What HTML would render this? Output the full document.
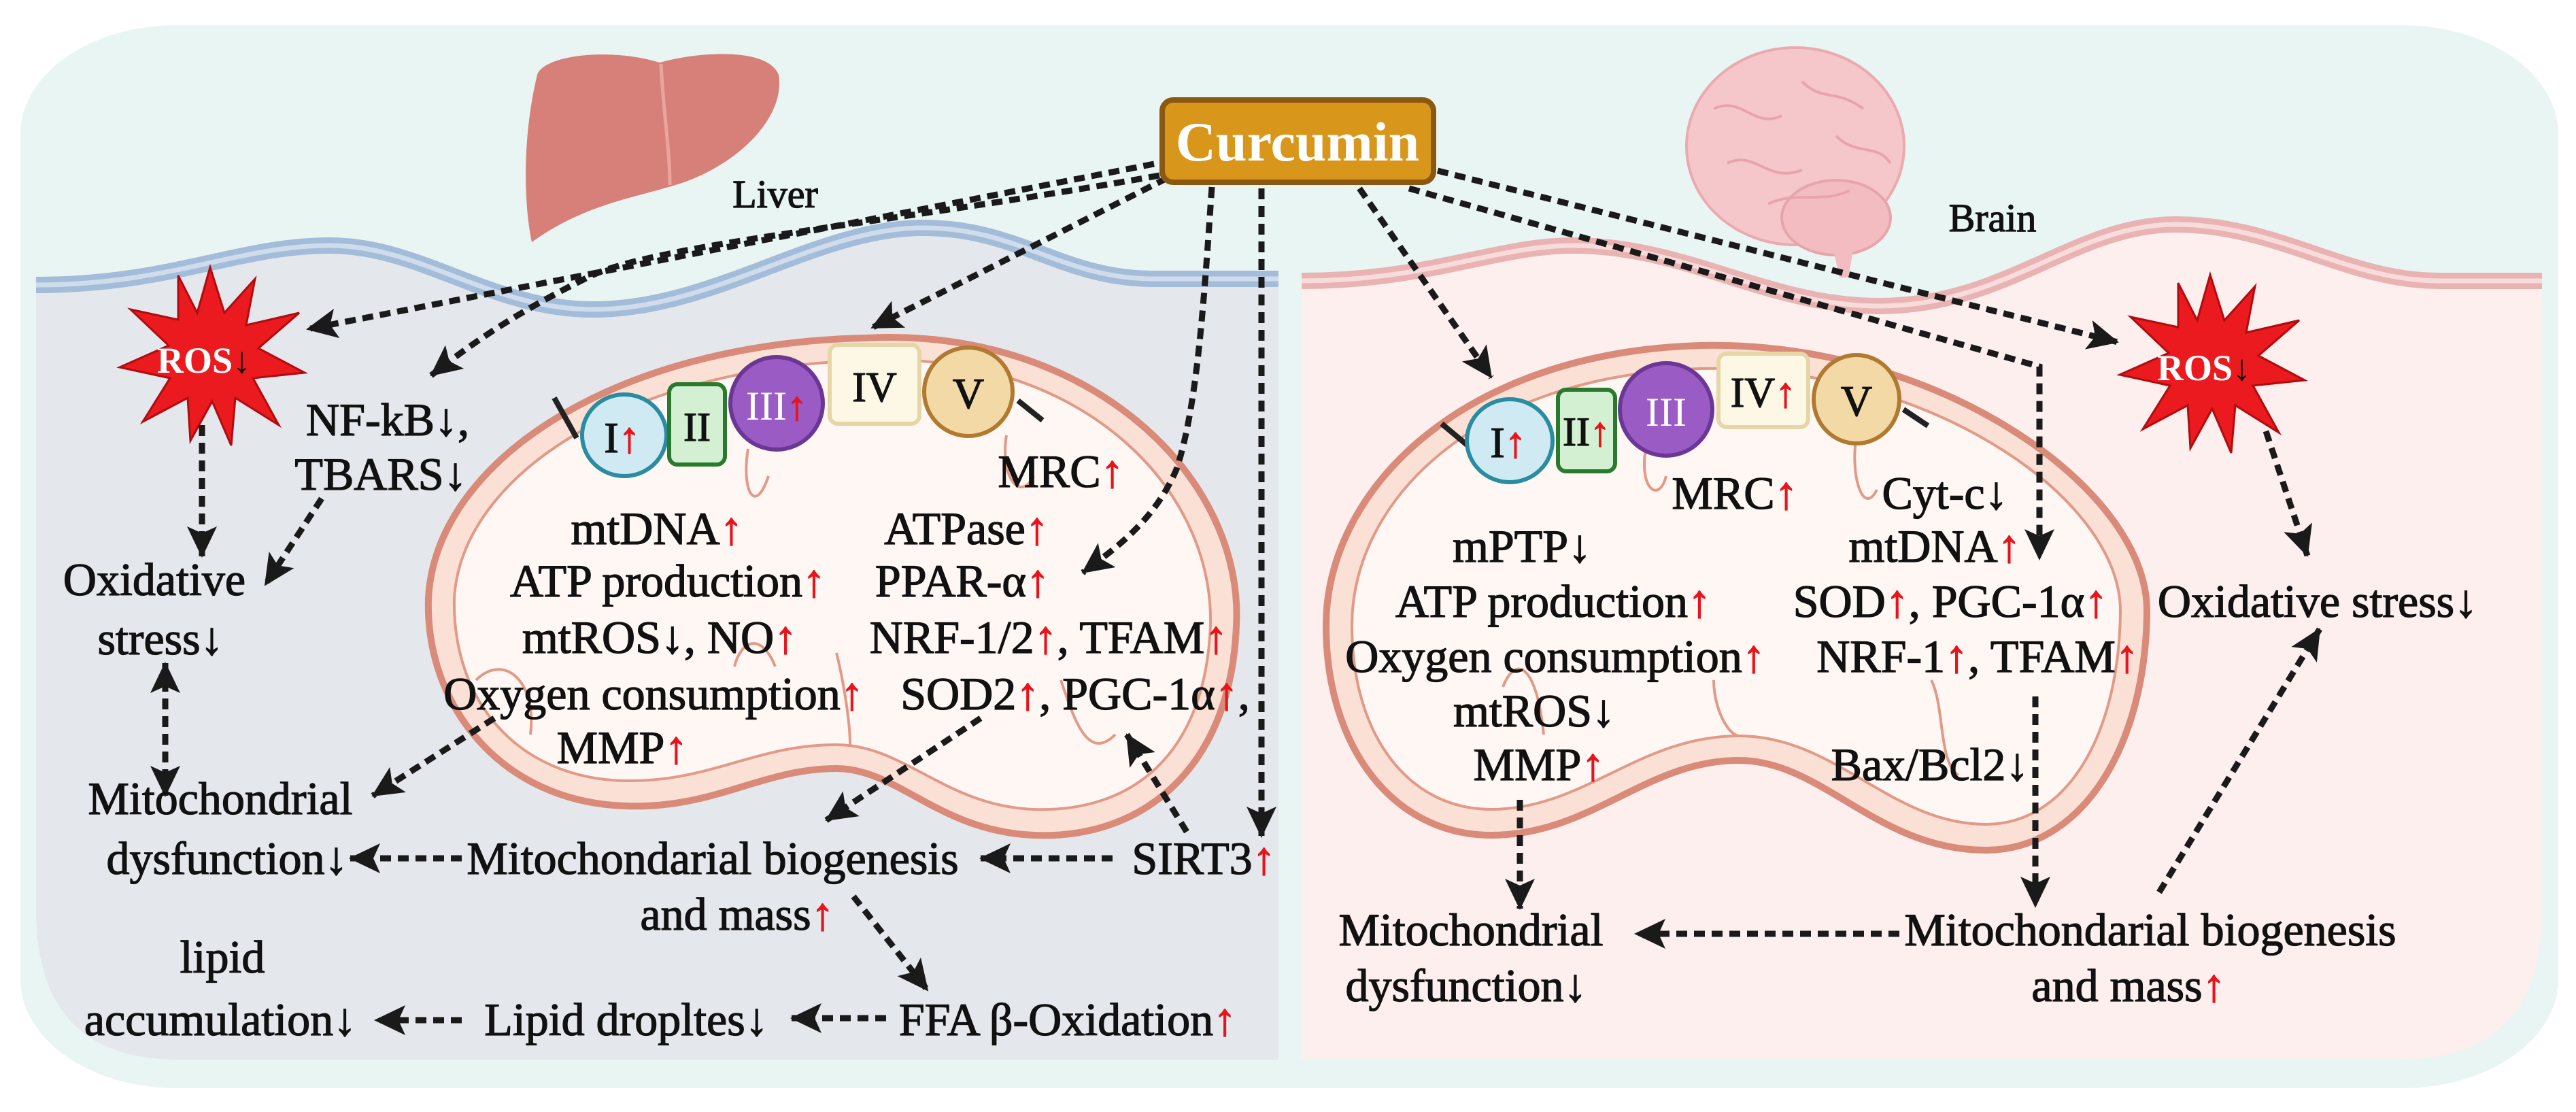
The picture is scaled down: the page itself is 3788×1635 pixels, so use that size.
<!DOCTYPE html>
<html><head><meta charset="utf-8"><style>
html,body{margin:0;padding:0;background:#fff;}
svg{display:block}
text{font-family:"Liberation Serif","DejaVu Serif",serif;font-size:68px;fill:#111;text-anchor:middle;stroke:#111;stroke-width:1.3px;paint-order:stroke}
.r{fill:#e8141c;stroke:#e8141c}
.w{fill:#fff;stroke:none}
</style></head><body>
<svg width="3788" height="1635" viewBox="0 0 3788 1635" xmlns="http://www.w3.org/2000/svg">
<defs>
<marker id="ah" markerUnits="userSpaceOnUse" markerWidth="50" markerHeight="44" refX="44" refY="22" orient="auto">
<path d="M0,0 L46,22 L0,44 L10,22 Z" fill="#1a1a1a"/>
</marker>
<marker id="as" markerUnits="userSpaceOnUse" markerWidth="50" markerHeight="44" refX="2" refY="22" orient="auto">
<path d="M46,0 L0,22 L46,44 L36,22 Z" fill="#1a1a1a"/>
</marker>
</defs>
<rect x="30" y="37" width="3732" height="1563" rx="230" ry="160" fill="#e9f5f2"/>
<path d="M53,419 C250,419 350,361 485,361 C620,361 720,455 873,455 C1050,455 1200,335 1357,335 C1500,335 1560,410 1697,410 L1880,410 L1880,1558 L263,1558 Q53,1558 53,1338 Z" fill="#e4e7eb"/>
<path d="M53,419 C250,419 350,361 485,361 C620,361 720,455 873,455 C1050,455 1200,335 1357,335 C1500,335 1560,410 1697,410 L1880,410" fill="none" stroke="#a3bcd9" stroke-width="24"/>
<path d="M53,419 C250,419 350,361 485,361 C620,361 720,455 873,455 C1050,455 1200,335 1357,335 C1500,335 1560,410 1697,410 L1880,410" fill="none" stroke="#cfdcec" stroke-width="7"/>
<path d="M1914,413 C2100,413 2200,361 2314,361 C2480,361 2600,450 2763,450 C2950,450 3050,330 3199,330 C3350,330 3450,413 3587,413 L3738,413 L3738,1338 Q3738,1558 3528,1558 L1914,1558 Z" fill="#fcefee"/>
<path d="M1914,413 C2100,413 2200,361 2314,361 C2480,361 2600,450 2763,450 C2950,450 3050,330 3199,330 C3350,330 3450,413 3587,413 L3738,413" fill="none" stroke="#e9b3b3" stroke-width="24"/>
<path d="M1914,413 C2100,413 2200,361 2314,361 C2480,361 2600,450 2763,450 C2950,450 3050,330 3199,330 C3350,330 3450,413 3587,413 L3738,413" fill="none" stroke="#f8dcdc" stroke-width="7"/>
<path d="M790,110 C800,80 900,70 970,92 C1030,75 1130,70 1145,110 C1155,170 1090,240 1000,270 C930,292 860,300 782,356 C770,300 768,200 790,110 Z" fill="#d7807a"/>
<path d="M972,94 C975,160 985,220 985,272" stroke="#e9a59c" stroke-width="5" fill="none"/>
<ellipse cx="2640" cy="215" rx="160" ry="145" fill="#f5c7cb" stroke="#eaaab0" stroke-width="4"/>
<ellipse cx="2700" cy="320" rx="80" ry="55" fill="#f2bcc1" stroke="#e7a5ab" stroke-width="4"/>
<path d="M2690,340 L2730,340 L2718,408 L2705,408 Z" fill="#f2bcc1"/>
<path d="M2520,160 C2560,140 2580,190 2620,170 M2540,240 C2580,220 2600,270 2650,250 M2650,120 C2680,150 2700,130 2740,160 M2600,300 C2640,280 2680,300 2720,280 M2700,200 C2730,230 2760,210 2780,240" stroke="#e7a5ab" stroke-width="4" fill="none"/>
<path d="M1273,497 C1600,480 1830,700 1818,920 C1810,1130 1680,1235 1520,1228 C1380,1222 1320,1130 1230,1130 C1120,1130 1050,1190 920,1185 C740,1180 625,1040 630,880 C640,680 900,505 1273,497 Z" fill="#fbe0d6" stroke="#d98a78" stroke-width="10"/>
<path d="M1273,530 C1580,515 1785,710 1780,920 C1772,1110 1665,1195 1520,1190 C1390,1185 1330,1095 1230,1095 C1110,1095 1045,1150 920,1148 C760,1145 665,1030 668,880 C678,700 920,540 1273,530 Z" fill="#fff7f4" stroke="#e29a88" stroke-width="4"/>
<path d="M700,1000 C740,960 790,1000 780,1080 M1080,980 C1090,940 1120,930 1140,980 M1230,960 C1240,1000 1250,1060 1250,1095 M1560,1000 C1580,1060 1600,1120 1640,1080 M1480,640 C1470,700 1500,740 1520,700 M1100,660 C1090,720 1110,760 1130,700" stroke="#e29a88" stroke-width="4" fill="none"/>
<path d="M2500,508 C2850,500 3160,720 3157,900 C3155,1100 3060,1250 2920,1250 C2760,1250 2680,1118 2557,1118 C2420,1118 2340,1228 2193,1228 C2050,1228 1950,1100 1950,920 C1950,720 2150,518 2500,508 Z" fill="#fbe0d6" stroke="#d98a78" stroke-width="10"/>
<path d="M2500,542 C2830,535 3120,730 3118,900 C3116,1080 3040,1212 2920,1212 C2780,1212 2700,1082 2557,1082 C2410,1082 2330,1190 2193,1190 C2070,1190 1988,1080 1988,920 C1988,735 2170,552 2500,542 Z" fill="#fff7f4" stroke="#e29a88" stroke-width="4"/>
<path d="M2210,1010 C2230,960 2260,980 2270,1080 M2520,1000 C2520,1040 2540,1080 2557,1082 M2840,1000 C2860,1040 2850,1120 2880,1140 M2730,640 C2720,700 2740,760 2760,720 M2420,660 C2410,720 2440,740 2450,700" stroke="#e29a88" stroke-width="4" fill="none"/>
<path d="M815,585 L848,644 M1497,589 L1533,618" stroke="#222" stroke-width="8"/>
<ellipse cx="918" cy="640" rx="62" ry="60" fill="#cfeaf3" stroke="#2a8ca0" stroke-width="6"/>
<rect x="984" y="565" width="82" height="118" rx="12" fill="#d4f0d2" stroke="#2a7a2e" stroke-width="6"/>
<ellipse cx="1142" cy="593" rx="68" ry="68" fill="#9a5cc4" stroke="#6b3795" stroke-width="6"/>
<rect x="1220" y="507" width="132" height="116" rx="12" fill="#fdf8e6" stroke="#e6d6a6" stroke-width="6"/>
<ellipse cx="1424" cy="576" rx="65" ry="65" fill="#f2d9a6" stroke="#b07a30" stroke-width="6"/>
<text x="915" y="665" style="font-size:64px">I<tspan class="r">↑</tspan></text>
<text x="1025" y="648" style="font-size:60px">II</text>
<text x="1142" y="617" style="font-size:60px" class="w">III<tspan class="r">↑</tspan></text>
<text x="1286" y="590" style="font-size:62px">IV</text>
<text x="1424" y="600" style="font-size:64px">V</text>
<path d="M2120,623 L2157,654 M2799,602 L2835,626" stroke="#222" stroke-width="8"/>
<ellipse cx="2220" cy="648" rx="63" ry="61" fill="#cfeaf3" stroke="#2a8ca0" stroke-width="6"/>
<rect x="2291" y="573" width="84" height="120" rx="12" fill="#d4f0d2" stroke="#2a7a2e" stroke-width="6"/>
<ellipse cx="2450" cy="602" rx="68" ry="68" fill="#9a5cc4" stroke="#6b3795" stroke-width="6"/>
<rect x="2527" y="520" width="132" height="108" rx="12" fill="#fdf8e6" stroke="#e6d6a6" stroke-width="6"/>
<ellipse cx="2730" cy="587" rx="63" ry="65" fill="#f2d9a6" stroke="#b07a30" stroke-width="6"/>
<text x="2218" y="672" style="font-size:64px">I<tspan class="r">↑</tspan></text>
<text x="2333" y="655" style="font-size:60px">II<tspan class="r">↑</tspan></text>
<text x="2450" y="626" style="font-size:60px" class="w">III</text>
<text x="2593" y="598" style="font-size:62px">IV<tspan class="r">↑</tspan></text>
<text x="2730" y="611" style="font-size:64px">V</text>
<polygon points="309,393 330,460 375,410 362,478 440,460 380,512 448,548 372,556 410,625 346,585 340,655 312,590 280,648 276,585 210,620 250,556 176,540 248,508 192,455 262,470 262,405 290,460" fill="#ea1a1e" stroke="#b00c10" stroke-width="3"/>
<text x="300" y="548" style="font-size:54px;font-weight:bold" class="w">ROS<tspan style="fill:#111;font-weight:normal">↓</tspan></text>
<polygon points="3250,404 3271,471 3316,421 3303,489 3381,471 3321,523 3389,559 3313,567 3351,636 3287,596 3281,666 3253,601 3221,659 3217,596 3151,631 3191,567 3117,551 3189,519 3133,466 3203,481 3203,416 3231,471" fill="#ea1a1e" stroke="#b00c10" stroke-width="3"/>
<text x="3241" y="559" style="font-size:54px;font-weight:bold" class="w">ROS<tspan style="fill:#111;font-weight:normal">↓</tspan></text>
<g fill="none" stroke="#1a1a1a" stroke-width="9" stroke-dasharray="16 10">
<path d="M1697,241 L452,484" marker-end="url(#ah)"/>
<path d="M1705,258 C1300,330 950,360 860,410 C760,460 700,500 634,552" marker-end="url(#ah)"/>
<path d="M1716,262 L1282,482" marker-end="url(#ah)"/>
<path d="M1782,275 C1770,450 1760,600 1730,690 C1700,760 1650,800 1592,842" marker-end="url(#ah)"/>
<path d="M1855,277 L1855,1230" marker-end="url(#ah)"/>
<path d="M297,625 L297,818" marker-end="url(#ah)"/>
<path d="M473,733 L390,860" marker-end="url(#ah)"/>
<path d="M243,975 L243,1170" marker-start="url(#as)" marker-end="url(#ah)"/>
<path d="M727,1056 L548,1170" marker-end="url(#ah)"/>
<path d="M1442,1056 L1215,1206" marker-end="url(#ah)"/>
<path d="M1745,1223 L1657,1080" marker-end="url(#ah)"/>
<path d="M1636,1262 L1442,1262" marker-end="url(#ah)"/>
<path d="M679,1262 L515,1262" marker-end="url(#ah)"/>
<path d="M1255,1318 L1364,1456" marker-end="url(#ah)"/>
<path d="M1303,1497 L1164,1497" marker-end="url(#ah)"/>
<path d="M679,1500 L552,1500" marker-end="url(#ah)"/>
<path d="M1999,277 L2193,555" marker-end="url(#ah)"/>
<path d="M2114,251 L3114,503" marker-end="url(#ah)"/>
<path d="M2072,277 L2999,539 L2999,822" marker-end="url(#ah)"/>
<path d="M3332,634 L3393,817" marker-end="url(#ah)"/>
<path d="M3175,1312 L3411,925" marker-end="url(#ah)"/>
<path d="M2993,1024 L2993,1333" marker-end="url(#ah)"/>
<path d="M2235,1176 L2235,1336" marker-end="url(#ah)"/>
<path d="M2793,1373 L2405,1373" marker-end="url(#ah)"/>
</g>
<rect x="1709" y="147" width="399" height="121" rx="16" fill="#d8961a" stroke="#8b5812" stroke-width="8"/>
<text x="1908" y="236" style="font-size:82px;font-weight:bold" class="w">Curcumin</text>
<text x="1140" y="305" style="font-size:58px">Liver</text>
<text x="2930" y="340" style="font-size:58px">Brain</text>
<text x="570" y="640">NF-kB↓,</text>
<text x="560" y="720">TBARS↓</text>
<text x="227" y="875">Oxidative</text>
<text x="236" y="962">stress↓</text>
<text x="324" y="1197">Mitochondrial</text>
<text x="334" y="1285">dysfunction↓</text>
<text x="1048" y="1285">Mitochondarial biogenesis</text>
<text x="1084" y="1367">and mass<tspan class="r">↑</tspan></text>
<text x="1770" y="1285">SIRT3<tspan class="r">↑</tspan></text>
<text x="327" y="1430">lipid</text>
<text x="324" y="1522">accumulation↓</text>
<text x="921" y="1522">Lipid dropltes↓</text>
<text x="1570" y="1522">FFA β-Oxidation<tspan class="r">↑</tspan></text>
<text x="966" y="800">mtDNA<tspan class="r">↑</tspan></text>
<text x="1421" y="800">ATPase<tspan class="r">↑</tspan></text>
<text x="1560" y="716">MRC<tspan class="r">↑</tspan></text>
<text x="982" y="877">ATP production<tspan class="r">↑</tspan></text>
<text x="1415" y="877">PPAR-α<tspan class="r">↑</tspan></text>
<text x="970" y="960">mtROS↓, NO<tspan class="r">↑</tspan></text>
<text x="1542" y="960">NRF-1/2<tspan class="r">↑</tspan>, TFAM<tspan class="r">↑</tspan></text>
<text x="961" y="1043">Oxygen consumption<tspan class="r">↑</tspan></text>
<text x="1581" y="1043">SOD2<tspan class="r">↑</tspan>, PGC-1α<tspan class="r">↑</tspan>,</text>
<text x="915" y="1122">MMP<tspan class="r">↑</tspan></text>
<text x="2551" y="748">MRC<tspan class="r">↑</tspan></text>
<text x="2860" y="748">Cyt-c↓</text>
<text x="2238" y="826">mPTP↓</text>
<text x="2845" y="826">mtDNA<tspan class="r">↑</tspan></text>
<text x="2284" y="907">ATP production<tspan class="r">↑</tspan></text>
<text x="2868" y="907">SOD<tspan class="r">↑</tspan>, PGC-1α<tspan class="r">↑</tspan></text>
<text x="3408" y="907">Oxidative stress↓</text>
<text x="2287" y="988">Oxygen consumption<tspan class="r">↑</tspan></text>
<text x="2908" y="988">NRF-1<tspan class="r">↑</tspan>, TFAM<tspan class="r">↑</tspan></text>
<text x="2256" y="1068">mtROS↓</text>
<text x="2263" y="1147">MMP<tspan class="r">↑</tspan></text>
<text x="2838" y="1147">Bax/Bcl2↓</text>
<text x="2163" y="1390">Mitochondrial</text>
<text x="2156" y="1472">dysfunction↓</text>
<text x="3162" y="1390">Mitochondarial biogenesis</text>
<text x="3130" y="1472">and mass<tspan class="r">↑</tspan></text>
</svg>
</body></html>
